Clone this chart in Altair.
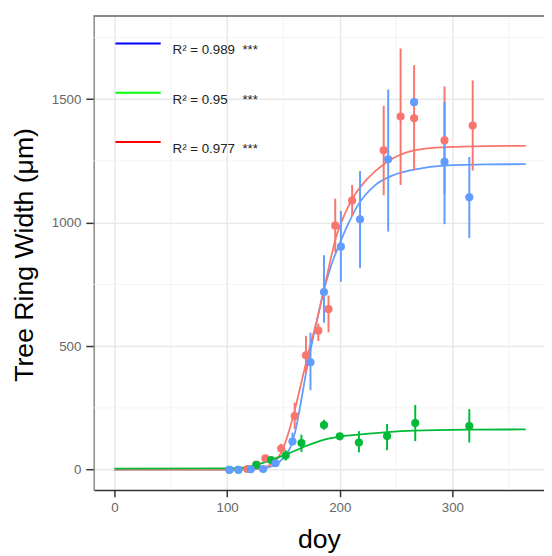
import altair as alt
import pandas as pd

# ---------------- data ----------------
groups = ["red", "green", "blue"]
group_colors = ["#F8766D", "#00BA38", "#619CFF"]

# observed means with error bars
blue_doy  = [102, 110, 121, 132, 143, 158, 174, 186, 201, 218, 243, 266, 293, 315]
blue_mean = [0, 0, 2, 3, 26, 114, 435, 719, 903, 1014, 1257, 1488, 1246, 1103]
blue_lo   = [0, 0, 2, 3, 26, 98, 322, 595, 761, 816, 964, 1488, 994, 938]
blue_hi   = [0, 0, 2, 3, 26, 150, 555, 868, 1048, 1209, 1539, 1488, 1489, 1266]

red_doy  = [118, 126, 134, 148, 160, 170, 181, 190, 196, 211, 239, 254, 266, 293, 318]
red_mean = [3, 21, 46, 86, 217, 463, 563, 650, 988, 1090, 1293, 1430, 1423, 1333, 1393]
red_lo   = [3, 12, 32, 70, 165, 393, 521, 556, 880, 1027, 1111, 1153, 1213, 1116, 1211]
red_hi   = [3, 30, 60, 105, 272, 542, 592, 705, 1097, 1153, 1473, 1705, 1638, 1552, 1576]

green_doy  = [102, 110, 126, 139, 152, 166, 186, 200, 217, 242, 267, 315]
green_mean = [0, 0, 19, 39, 57, 108, 181, 135, 110, 136, 189, 177]
green_lo   = [0, 0, 13, 31, 37, 72, 162, 128, 70, 79, 116, 110]
green_hi   = [0, 0, 25, 47, 79, 142, 202, 142, 156, 185, 262, 245]

# fitted curves
blue_curve_doy = [0, 100, 120, 130, 140, 146, 152, 157, 161, 165, 171, 178, 186, 193, 199, 208, 216, 231, 248, 266, 295, 330, 365]
blue_curve_val = [0, 0, 1, 4, 14, 30, 58, 100, 165, 260, 415, 568, 728, 835, 905, 1000, 1070, 1150, 1193, 1215, 1232, 1236, 1237]

red_curve_doy = [0, 100, 120, 130, 140, 149, 158, 165, 172, 180, 187, 196, 204, 211, 225, 240, 266, 295, 330, 365]
red_curve_val = [0, 0, 2, 6, 25, 78, 205, 335, 470, 610, 750, 930, 1030, 1095, 1180, 1240, 1293, 1306, 1310, 1311]

green_curve_doy = [0, 100, 115, 126, 138, 152, 167, 184, 200, 219, 242, 266, 314, 365]
green_curve_val = [4, 5, 8, 20, 37, 61, 90, 119, 134, 143, 152, 158, 162, 163]

# legend entries
legend_labels = ["R² = 0.989\u00a0\u00a0***", "R² = 0.95\u00a0\u00a0\u00a0\u00a0***", "R² = 0.977\u00a0\u00a0***"]
legend_colors = ["#0000FF", "#00FF00", "#FF0000"]
legend_doy = [200, 200, 200]
legend_val = [500, 500, 500]

x_ticks = [0, 100, 200, 300]
x_minor = [50, 150, 250, 350]
y_ticks = [0, 500, 1000, 1500]
y_minor = [250, 750, 1250, 1750]

# ---------------- tables ----------------
def obs(g, d, m, lo, hi):
    return pd.DataFrame({"grp": g, "doy": d, "val": m, "lo": lo, "hi": hi})

obs_df = pd.concat([
    obs("red", red_doy, red_mean, red_lo, red_hi),
    obs("green", green_doy, green_mean, green_lo, green_hi),
    obs("blue", blue_doy, blue_mean, blue_lo, blue_hi),
])

def crv(g, d, v):
    return pd.DataFrame({"grp": g, "doy": d, "val": v})

curve_df = pd.concat([
    crv("red", red_curve_doy, red_curve_val),
    crv("green", green_curve_doy, green_curve_val),
    crv("blue", blue_curve_doy, blue_curve_val),
])

legend_df = pd.DataFrame({"lab": legend_labels, "doy": legend_doy, "val": legend_val})
xminor_df = pd.DataFrame({"doy": x_minor})
yminor_df = pd.DataFrame({"val": y_minor})

# ---------------- chart ----------------
W, H = 457, 481
xs = alt.Scale(domain=[-18.4, 381.3], nice=False, zero=False)
ys = alt.Scale(domain=[-81.8, 1836.9], nice=False, zero=False)

x_axis = alt.Axis(values=x_ticks, format="d", grid=True, gridColor="#E8E8E8", gridWidth=1.5,
                  domainColor="#333333", domainWidth=1.5, tickColor="#333333",
                  tickWidth=1.5, tickSize=7, labelFontSize=13.5, labelColor="#666666",
                  labelPadding=4, titleFontSize=27, titleFontWeight="normal",
                  titleColor="#000000", titleX=W / 2, titleY=58, titleAlign="center",
                  titleBaseline="alphabetic")
y_axis = alt.Axis(values=y_ticks, format="d", grid=True, gridColor="#E8E8E8", gridWidth=1.5,
                  domainColor="#888888", domainWidth=1.5, tickColor="#333333",
                  tickWidth=1.5, tickSize=8, labelFontSize=13.5, labelColor="#666666",
                  labelPadding=5, titleFontSize=27, titleFontWeight="normal",
                  titleColor="#000000", titleX=-62, titleY=242, titleAlign="center",
                  titleBaseline="alphabetic", titleAngle=-90)

X = alt.X("doy:Q", scale=xs, axis=x_axis, title="doy")
Y = alt.Y("val:Q", scale=ys, axis=y_axis, title="Tree Ring Width (μm)")
C = alt.Color("grp:N", scale=alt.Scale(domain=groups, range=group_colors), legend=None)

minor_x = alt.Chart(xminor_df).mark_rule(color="#F3F3F3", strokeWidth=1).encode(x=X)
minor_y = alt.Chart(yminor_df).mark_rule(color="#F3F3F3", strokeWidth=1).encode(y=Y)
top_border = alt.Chart(xminor_df).mark_rule(color="#888888", strokeWidth=1.5).encode(
    y=alt.value(0), x=alt.value(0), x2=alt.value(W))

def curve_layer(g):
    return alt.Chart(curve_df).transform_filter(alt.datum.grp == g).mark_line(
        strokeWidth=1.8, interpolate="monotone").encode(x=X, y=Y, color=C, order="doy:Q")

curves = [curve_layer("blue"), curve_layer("red"), curve_layer("green")]

bars = alt.Chart(obs_df).mark_rule(strokeWidth=2).encode(
    x=X, y=alt.Y("lo:Q", scale=ys, axis=y_axis, title="Tree Ring Width (μm)"), y2="hi:Q", color=C)
points = alt.Chart(obs_df).mark_circle(size=68, opacity=1).encode(x=X, y=Y, color=C)

legend_layer = alt.Chart(legend_df).mark_line().encode(
    x=X, y=Y,
    stroke=alt.Stroke("lab:N",
                      scale=alt.Scale(domain=legend_labels, range=legend_colors),
                      legend=alt.Legend(orient="none", legendX=21, legendY=4, title=None,
                                        symbolType="stroke", symbolSize=2116,
                                        symbolStrokeWidth=2, symbolOpacity=1,
                                        labelFontSize=13.5, labelColor="#222222",
                                        labelOffset=11, labelBaseline="top",
                                        rowPadding=12, padding=0, labelLimit=300)))

chart = alt.layer(minor_x, minor_y, top_border, *curves, bars, points, legend_layer).properties(
    width=W, height=H,
    autosize=alt.AutoSizeParams(type="none"),
    padding={"left": 87, "top": 4, "right": 0, "bottom": 63},
).configure(font="Liberation Sans").configure_view(stroke=None)

chart.save("out.html", embed_options={"renderer": "svg", "actions": False})
